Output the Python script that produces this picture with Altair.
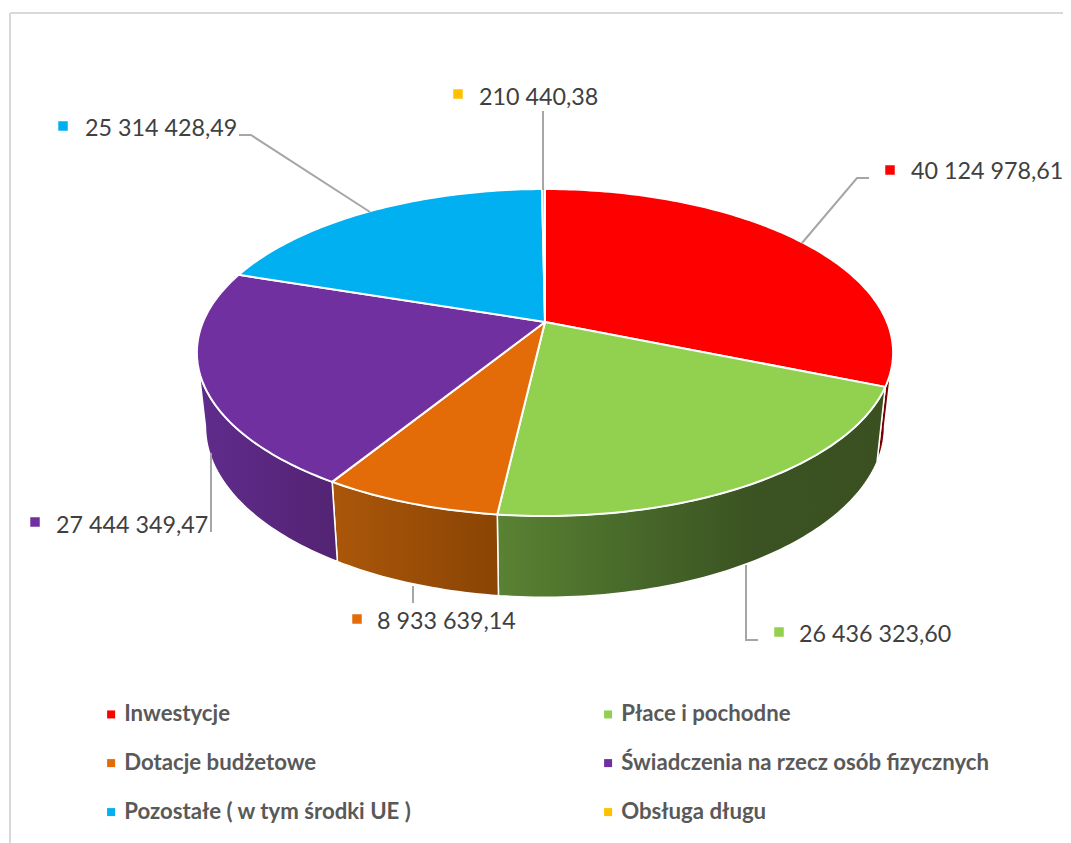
import math
import altair as alt
import pandas as pd

names = ["Inwestycje", "Płace i pochodne", "Dotacje budżetowe",
         "Świadczenia na rzecz osób fizycznych", "Pozostałe ( w tym środki UE )", "Obsługa długu"]
values = [40124978.61, 26436323.60, 8933639.14, 27444349.47, 25314428.49, 210440.38]
colors = ["#FF0000", "#92D050", "#E36C09", "#7030A0", "#00B0F0", "#FFC000"]

# shading of the visible rim, one gradient per slice (left colour(s) to right)
rim_stops = {
    "Inwestycje": ["#7A0000", "#7A0000"],
    "Płace i pochodne": ["#5A8233", "#486A2A", "#3B5222", "#3A5020"],
    "Dotacje budżetowe": ["#AB570A", "#8A4404"],
    "Świadczenia na rzecz osób fizycznych": ["#602C8C", "#532373"],
}

# label anchors in page pixels: marker centre, text start
marker_x = [890, 779, 357, 35, 63, 458]
marker_y = [170, 632, 619, 522, 126, 94]
label_x = [911, 799, 377, 56, 85, 479]
label_y = [172, 635, 622, 526, 129, 98]
leaders = [
    [(869, 178), (857, 178), (802, 243)],
    [(746, 565), (746, 640), (758, 640)],
    [(413, 586), (413, 603)],
    [(211, 532), (211, 453)],
    [(239, 135), (251, 135), (370, 212)],
    [(543, 111), (543, 190)],
]

# perspective model of the pie disc
CX, CY = 545, 322
K = 0.1866
TOP_A, TOP_B = 157.8, 342.0
LOW_A, LOW_B, LOW_CY = 165.0, 333.6, 394.4
FRONT_FROM = math.degrees(math.acos(-K))
FRONT_TO = 360 - FRONT_FROM


def top_pt(deg):
    t = math.radians(deg)
    d = 1 + K * math.cos(t)
    return [CX + TOP_B * math.sin(t) / d, CY - TOP_A * math.cos(t) / d]


def low_pt(deg):
    t = math.radians(deg)
    d = 1 + K * math.cos(t)
    return [CX + LOW_B * math.sin(t) / d, LOW_CY - LOW_A * math.cos(t) / d]


def arc(f, a, b):
    n = max(2, int(abs(b - a) / 1.0) + 1)
    return [f(a + (b - a) * i / n) for i in range(n + 1)]


total = sum(values)
bounds = [0.0]
for v in values:
    bounds.append(bounds[-1] + v / total * 360)

features = []
for i, name in enumerate(names):
    ring = [[CX, CY]] + arc(top_pt, bounds[i], bounds[i + 1]) + [[CX, CY]]
    features.append({"type": "Feature", "properties": {"name": name},
                     "geometry": {"type": "Polygon", "coordinates": [ring]}})

PROJ = dict(type="identity", scale=1, translate=[-8, -8])

layers = []
for i, name in enumerate(names):
    if name not in rim_stops:
        continue
    a = max(bounds[i], FRONT_FROM)
    b = min(bounds[i + 1], FRONT_TO)
    ring = arc(top_pt, a, b) + arc(low_pt, b, a)
    ring.append(ring[0])
    stops = rim_stops[name]
    grad = alt.Gradient(
        gradient="linear", x1=0, x2=1, y1=0, y2=0,
        stops=[alt.GradientStop(offset=j / (len(stops) - 1), color=c) for j, c in enumerate(stops)],
    )
    feat = {"type": "Feature", "properties": {"name": name},
            "geometry": {"type": "Polygon", "coordinates": [ring]}}
    layers.append(
        alt.Chart(alt.InlineData(values={"type": "FeatureCollection", "features": [feat]},
                                 format=alt.DataFormat(type="json", property="features")))
        .mark_geoshape(fill=grad, stroke="#FFFFFF", strokeWidth=1.5, strokeJoin="round")
        .project(**PROJ)
    )

top = (
    alt.Chart(alt.InlineData(values={"type": "FeatureCollection", "features": features},
                             format=alt.DataFormat(type="json", property="features")))
    .mark_geoshape(stroke="#FFFFFF", strokeWidth=2, strokeJoin="round")
    .encode(
        color=alt.Color(
            "properties.name:N",
            scale=alt.Scale(domain=names, range=colors),
            sort=names,
            legend=alt.Legend(
                title=None, orient="none", legendX=92, legendY=695, direction="horizontal", columns=2,
                symbolType="square", symbolSize=64, symbolStrokeWidth=0, symbolOpacity=1,
                labelFont="Lato", labelFontWeight="bold", labelFontSize=22.2, labelColor="#595959",
                labelLimit=500, labelOffset=2, columnPadding=185, rowPadding=26,
            ),
        )
    )
    .project(**PROJ)
)
layers.append(top)

leader_df = pd.DataFrame(
    [{"s": i, "o": j, "x": p[0] - 8, "y": p[1] - 8} for i, pts in enumerate(leaders) for j, p in enumerate(pts)]
)
layers.append(
    alt.Chart(leader_df).mark_line(color="#A6A6A6", strokeWidth=2).encode(
        x=alt.X("x:Q", scale=None, axis=None), y=alt.Y("y:Q", scale=None, axis=None),
        detail="s:N", order="o:Q",
    )
)

label_df = pd.DataFrame({
    "name": names,
    "text": [f"{v:,.2f}".replace(",", " ").replace(".", ",") for v in values],
    "mx": [v - 8 for v in marker_x], "my": [v - 8 for v in marker_y],
    "lx": [v - 8 for v in label_x], "ly": [v - 8 for v in label_y],
})
layers.append(
    alt.Chart(label_df).mark_square(size=90, opacity=1, strokeWidth=0).encode(
        x=alt.X("mx:Q", scale=None, axis=None), y=alt.Y("my:Q", scale=None, axis=None),
        fill=alt.Fill("name:N", scale=alt.Scale(domain=names, range=colors), legend=None),
    )
)
layers.append(
    alt.Chart(label_df).mark_text(font="Lato", fontSize=23.3, color="#404040", align="left", baseline="middle").encode(
        x=alt.X("lx:Q", scale=None, axis=None), y=alt.Y("ly:Q", scale=None, axis=None),
        text="text:N",
    )
)

frame_src = pd.DataFrame({"a": [0]})
layers.append(alt.Chart(frame_src).mark_rule(color="#D9D9D9", strokeWidth=2).encode(
    x=alt.value(2), y=alt.value(5), y2=alt.value(835)))
layers.append(alt.Chart(frame_src).mark_rule(color="#D9D9D9", strokeWidth=2).encode(
    x=alt.value(2), x2=alt.value(1055), y=alt.value(5)))

chart = (
    alt.layer(*layers)
    .resolve_scale(color="independent", fill="independent")
    .properties(width=1055, height=835, padding=0, background="#FFFFFF",
                autosize=alt.AutoSizeParams(type="none"))
    .configure_view(stroke=None)
)
chart.save("out.html", embed_options={"renderer": "svg", "actions": False})
